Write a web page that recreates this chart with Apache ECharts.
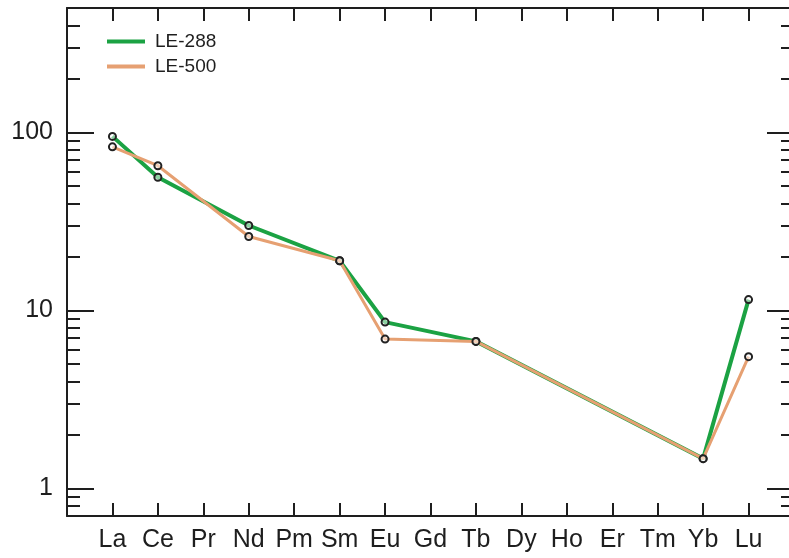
<!DOCTYPE html>
<html>
<head>
<meta charset="utf-8">
<script src="https://cdn.jsdelivr.net/npm/echarts@6/dist/echarts.min.js"></script>
<style>
  html, body { margin: 0; padding: 0; background: #fff; }
  #main { width: 789px; height: 558px; }
</style>
</head>
<body>
<div id="main"></div>
<script>
// REE pattern, chondrite normalised
const elements = ['La', 'Ce', 'Pr', 'Nd', 'Pm', 'Sm', 'Eu', 'Gd', 'Tb', 'Dy', 'Ho', 'Er', 'Tm', 'Yb', 'Lu']
const le288 = [95, 56, null, 30, null, 19, 8.6, null, 6.7, null, null, null, null, 1.47, 11.5]
const le500 = [83, 65, null, 26, null, 19, 6.9, null, 6.7, null, null, null, null, 1.47, 5.5]
const yMajor = [1, 10, 100]
const yMinor = [0.8, 0.9, 2, 3, 4, 5, 6, 7, 8, 9, 20, 30, 40, 50, 60, 70, 80, 90, 200, 300, 400, 500]

const green = '#1ba243'
const orange = '#e6a072'
const ink = '#1e1e1e'
const font = 'Liberation Sans, Arial, sans-serif'

function pairs (vals) {
  let out = []
  vals.forEach(function (v, i) {
    if (v !== null) out.push([i, v])
  })
  return out
}

function yAx (position, ticks, len, showLine, showLabel) {
  return {
    type: 'log',
    logBase: 10,
    min: 0.7,
    max: 500,
    position: position,
    splitLine: { show: false },
    axisLine: { show: showLine, onZero: false, lineStyle: { color: ink, width: 2 } },
    axisTick: { show: true, inside: true, length: len, customValues: ticks, lineStyle: { color: ink, width: 2 } },
    axisLabel: { show: showLabel, customValues: yMajor, fontSize: 25, color: ink, fontFamily: font, margin: 14 }
  }
}

function xAx (position, showLabel) {
  return {
    type: 'value',
    min: -1,
    max: 15,
    interval: 1,
    position: position,
    splitLine: { show: false },
    axisLine: { show: true, onZero: false, lineStyle: { color: ink, width: 2 } },
    axisTick: { show: true, inside: true, length: 13, lineStyle: { color: ink, width: 2 } },
    axisLabel: {
      show: showLabel,
      fontSize: 25,
      color: ink,
      fontFamily: font,
      margin: 12,
      formatter: function (v) { return elements[v] || '' }
    }
  }
}

let chart = echarts.init(document.getElementById('main'))
let option = {
  animation: false,
  backgroundColor: '#fff',
  grid: { left: 67, top: 8, width: 727, height: 508, outerBoundsMode: 'none', containLabel: false },
  legend: {
    orient: 'vertical',
    left: 107,
    top: 32,
    padding: 0,
    icon: 'rect',
    itemWidth: 38,
    itemHeight: 4,
    itemGap: 6,
    textStyle: { fontSize: 19, lineHeight: 18, color: ink, fontFamily: font, padding: [0, 0, 0, 5] },
    data: [
      { name: 'LE-288', itemStyle: { color: green, borderWidth: 0 } },
      { name: 'LE-500', itemStyle: { color: orange, borderWidth: 0 } }
    ]
  },
  xAxis: [xAx('bottom', true), xAx('top', false)],
  yAxis: [
    yAx('left', yMinor, 13, true, true),
    yAx('left', yMajor, 27, false, false),
    yAx('right', yMinor, 13, false, false),
    yAx('right', yMajor, 27, false, false)
  ],
  series: [
    {
      name: 'LE-288',
      type: 'line',
      data: pairs(le288),
      color: green,
      symbol: 'circle',
      symbolSize: 7,
      lineStyle: { color: green, width: 4 },
      itemStyle: { color: 'rgba(255,255,255,0.5)', borderColor: '#222', borderWidth: 2 },
      z: 2
    },
    {
      name: 'LE-500',
      type: 'line',
      data: pairs(le500),
      color: orange,
      symbol: 'circle',
      symbolSize: 7,
      lineStyle: { color: orange, width: 3 },
      itemStyle: { color: 'rgba(255,255,255,0.5)', borderColor: '#222', borderWidth: 2 },
      z: 3
    }
  ]
}
chart.setOption(option)
</script>
</body>
</html>
